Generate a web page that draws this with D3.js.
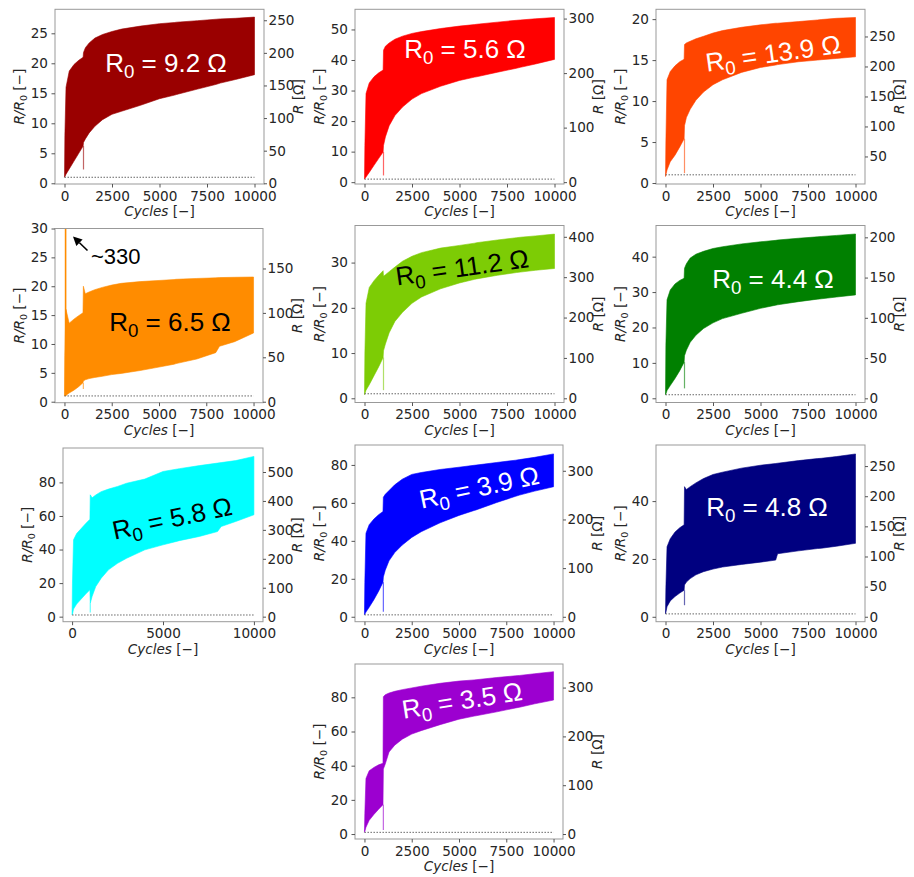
<!DOCTYPE html>
<html><head><meta charset="utf-8">
<script src="https://cdn.jsdelivr.net/npm/d3@7"></script>
<style>body{margin:0;background:#fff;} svg{display:block;}</style>
</head><body>
<svg id="chart" width="914" height="877"></svg>
<script>
// ---------------- DATA ----------------
const cycles = [0,20,80,250,500,750,980,1000,1100,1300,1600,2000,2500,3000,4000,5000,5800,5900,7000,8000,8200,9000,10000];
const r0Labels = ["9.2","5.6","13.9","6.5","11.2","4.4","5.8","3.9","4.8","3.5"];
const colors = ["#9a0000","#ff0000","#ff4500","#ff8c00","#7dcc05","#008000","#00ffff","#0000ff","#000080","#9c00d0"];

const upper1 = [1.0,8,16.0,18.7,19.8,20.5,21.0,21.8,22.6,23.4,24.2,24.8,25.3,25.7,26.2,26.6,26.8,26.85,27.1,27.35,27.4,27.5,27.7];
const lower1 = [1.0,1.1,1.5,2.4,3.7,5.0,6.2,6.8,7.4,8.4,9.5,10.6,11.5,12.0,13.0,14.1,14.7,14.8,15.7,16.5,16.7,17.3,18.1];
const upper2 = [1.1,12,29,32.5,34.5,35.8,36.7,43.2,44.5,45.6,46.8,47.8,48.7,49.3,50.3,51.1,51.6,51.7,52.4,53,53.1,53.5,53.9];
const lower2 = [1.0,1.1,1.7,3.2,5.5,7.8,9.9,12.0,14.8,18.5,21.8,24.6,27.2,29.0,31.4,33.3,34.4,34.5,36.0,37.3,37.6,38.7,40.2];
const upper3 = [0.8,5,12.6,13.6,14.3,14.8,15.1,16.9,17.1,17.3,17.6,17.9,18.3,18.6,19.0,19.3,19.5,19.5,19.7,19.9,19.95,20.1,20.2];
const lower3 = [0.8,1.0,1.6,2.6,3.4,4.4,5.4,7.0,8.0,9.0,10.1,11.1,12.0,12.6,13.5,14.1,14.4,14.45,14.8,15.0,15.05,15.2,15.4];
const upper4 = [1.0,8,16.0,13.6,14.3,14.9,15.4,20.0,18.7,19.0,19.4,19.8,20.2,20.5,20.8,21.0,21.15,21.2,21.35,21.45,21.5,21.55,21.6];
const lower4 = [1.0,1.0,1.1,1.5,2.0,2.6,3.3,3.6,3.8,4.0,4.2,4.4,4.7,4.9,5.4,6.0,6.5,6.6,7.4,8.5,9.6,10.4,11.9];
const upper5 = [1.0,10,21,24.5,26.0,27.2,28.2,27.0,27.3,28.0,29.0,30.3,31.4,32.2,33.2,33.8,34.3,34.4,35.0,35.5,35.6,35.9,36.3];
const lower5 = [0.8,1.0,1.8,3.0,5.0,7.0,9.0,10.5,12.0,14.5,17.0,19.0,21.0,22.4,24.2,25.5,26.3,26.4,27.2,27.8,27.9,28.3,28.7];
const upper6 = [1.2,15,27.8,30.6,32.3,33.3,33.9,36.7,38.0,39.6,40.7,41.5,42.3,42.8,43.6,44.2,44.6,44.7,45.2,45.6,45.7,46.0,46.4];
const lower6 = [1.0,1.2,2.2,3.6,5.6,7.8,10.2,12.0,13.6,15.8,17.8,19.7,21.3,22.5,24.0,25.4,26.3,26.4,27.3,28.0,28.1,28.6,29.2];
const upper7 = [1.5,20,45.8,49.5,52.5,55.5,58.0,72.6,70.8,72.5,74.5,76.0,77.6,79.5,82.0,86.5,88.0,88.2,90.0,91.5,91.8,93.0,95.5];
const lower7 = [1.0,1.5,4.5,7.5,10.5,13.5,16.0,8.0,12.0,17.9,22.9,27.9,31.8,34.8,39.8,42.8,45.0,45.3,47.8,50.7,53.7,56.7,60.7];
const upper8 = [1.5,18,44,48.5,51.5,53.8,55.4,63.0,64.5,66.5,69.5,72.5,75.0,76.0,77.6,78.8,79.8,79.9,81.3,82.5,82.8,84.0,85.8];
const lower8 = [1.0,1.3,2.5,5.0,9.0,13.5,18.2,21.0,24.5,29.5,33.8,37.8,41.8,44.8,49.5,53.4,56.0,56.3,60.2,63.5,64.1,66.2,68.5];
const upper9 = [1.2,10,24.2,27.0,29.3,30.8,31.8,45.0,44.0,45.0,46.3,47.8,49.2,50.0,51.4,52.4,53.0,53.1,54.0,54.7,54.8,55.4,56.3];
const lower9 = [1.0,1.5,3.5,5.5,7.0,8.2,9.2,11.0,12.0,13.2,14.5,15.6,16.5,17.2,18.1,18.9,19.6,21.8,22.8,23.6,23.7,24.4,25.4];
const upper10 = [1.4,12,32.5,37.0,39.0,40.5,41.4,80.4,81.5,82.5,83.5,84.5,85.5,86.5,88.2,89.5,90.2,90.3,91.6,92.6,92.8,93.8,95.0];
const lower10 = [1.0,1.5,4.0,8.0,11.5,14.5,17.2,38.0,41.0,48.0,52.0,55.5,58.5,60.5,64.0,67.2,69.0,69.2,71.5,73.8,74.2,76.2,78.4];

const spikeCycle = 1000;
const spikeMins = [2.3,2.2,1.2,2.2,1.8,2.8,2.5,2.6,4.0,2.3];
const earlySpike = {panel: 3, cycle: 60, value: 330, label: "~330"};

const leftDomains = [[-0.12,29.0],[-0.6,56.6],[-0.12,21.2],[-0.17,30],[-0.93,38.2],[-1.19,48.8],[-3.0,100.5],[-2.6,90.5],[-1.7,59.4],[-2.9,99.5]];
const rightDomains = [[-1.1,266.8],[-3.4,317],[4.1,295.3],[-1.1,195],[-10.4,428],[-5.2,214.7],[-17.4,583],[-10.1,353],[-8.2,285],[-10.2,348.3]];

const xTicks = [0,2500,5000,7500,10000];
const xTicksWide = [0,5000,10000];
const leftTicks = [[0,5,10,15,20,25],[0,10,20,30,40,50],[0,5,10,15,20],[0,5,10,15,20,25,30],[0,10,20,30],[0,10,20,30,40],[0,20,40,60,80],[0,20,40,60,80],[0,20,40],[0,20,40,60,80]];
const rightTicks = [[0,50,100,150,200,250],[0,100,200,300],[50,100,150,200,250],[0,50,100,150],[0,100,200,300,400],[0,50,100,150,200],[0,100,200,300,400,500],[0,100,200,300],[0,50,100,150,200,250],[0,100,200,300]];

const uppers = [upper1,upper2,upper3,upper4,upper5,upper6,upper7,upper8,upper9,upper10];
const lowers = [lower1,lower2,lower3,lower4,lower5,lower6,lower7,lower8,lower9,lower10];

// ---------------- LAYOUT ----------------
const boxes = [
  {x0:55,x1:264,y0:9.3,y1:184},
  {x0:355,x1:564,y0:9.3,y1:184},
  {x0:656,x1:865,y0:9.3,y1:184},
  {x0:55,x1:263,y0:228.5,y1:402.7},
  {x0:355,x1:564,y0:225.5,y1:402.5},
  {x0:656,x1:865,y0:225.5,y1:402.5},
  {x0:63,x1:263,y0:448,y1:621.7},
  {x0:355,x1:563,y0:445,y1:621.7},
  {x0:656,x1:865,y0:445,y1:621.7},
  {x0:355,x1:563,y0:664,y1:839}
];
const labelPos = [
  {cx:166,cy:63,rot:0,fill:"#fff"},
  {cx:465,cy:49,rot:0,fill:"#fff"},
  {cx:773,cy:53,rot:-8,fill:"#fff"},
  {cx:170,cy:322,rot:0,fill:"#000"},
  {cx:462,cy:267,rot:-8,fill:"#000"},
  {cx:773,cy:279,rot:0,fill:"#fff"},
  {cx:172,cy:518,rot:-12,fill:"#000"},
  {cx:479,cy:487,rot:-12,fill:"#fff"},
  {cx:767,cy:507,rot:0,fill:"#fff"},
  {cx:462,cy:700,rot:-9,fill:"#fff"}
];

const svg = d3.select("#chart");
const tickFont = "'DejaVu Sans', sans-serif";
const fs = 13.6;
const defs = svg.append("defs");

boxes.forEach((b, i) => {
  const x = d3.scaleLinear().domain([-500,10500]).range([b.x0,b.x1]);
  const y = d3.scaleLinear().domain(leftDomains[i]).range([b.y1,b.y0]);
  const yR = d3.scaleLinear().domain(rightDomains[i]).range([b.y1,b.y0]);
  const g = svg.append("g");
  const cid = "clip"+i;
  defs.append("clipPath").attr("id",cid).append("rect")
    .attr("x",b.x0).attr("y",b.y0).attr("width",b.x1-b.x0).attr("height",b.y1-b.y0);
  const pg = g.append("g").attr("clip-path",`url(#${cid})`);
  const data = cycles.map((c,k)=>({c, u:uppers[i][k], l:lowers[i][k]}));
  pg.append("path").datum(data)
    .attr("d", d3.area().x(d=>x(d.c)).y0(d=>y(d.l)).y1(d=>y(d.u)))
    .attr("fill", colors[i]).attr("stroke", colors[i]).attr("stroke-width",0.6);
  const kBefore = cycles.indexOf(980);
  pg.append("line")
    .attr("x1", x(spikeCycle)).attr("x2", x(spikeCycle))
    .attr("y1", y(spikeMins[i])).attr("y2", y(Math.min(lowers[i][kBefore], lowers[i][kBefore+1])))
    .attr("stroke", colors[i]).attr("stroke-width",1.2).attr("opacity",0.6);
  if (i === earlySpike.panel) {
    pg.append("line")
      .attr("x1", x(earlySpike.cycle)).attr("x2", x(earlySpike.cycle))
      .attr("y1", y(1)).attr("y2", y(earlySpike.value))
      .attr("stroke", colors[i]).attr("stroke-width",1.6);
  }
  pg.append("line")
    .attr("x1", x(0)).attr("x2", x(10000)).attr("y1", y(1)).attr("y2", y(1))
    .attr("stroke","#666").attr("stroke-width",1).attr("stroke-dasharray","1.5,1.5");

  g.append("rect").attr("x",b.x0).attr("y",b.y0).attr("width",b.x1-b.x0).attr("height",b.y1-b.y0)
    .attr("fill","none").attr("stroke","#999").attr("stroke-width",1);

  const styleAxis = sel => {
    sel.select(".domain").remove();
    sel.selectAll(".tick line").attr("stroke","#555");
    sel.selectAll(".tick text").attr("fill","#262626").attr("font-family",tickFont).attr("font-size",fs);
  };
  g.append("g").attr("transform",`translate(0,${b.y1})`)
    .call(d3.axisBottom(x).tickValues(i===6?xTicksWide:xTicks).tickFormat(d=>d).tickSize(3.5).tickPadding(3.5))
    .call(styleAxis);
  g.append("g").attr("transform",`translate(${b.x0},0)`)
    .call(d3.axisLeft(y).tickValues(leftTicks[i]).tickFormat(d=>d).tickSize(3.5).tickPadding(3.5))
    .call(styleAxis);
  g.append("g").attr("transform",`translate(${b.x1},0)`)
    .call(d3.axisRight(yR).tickValues(rightTicks[i]).tickFormat(d=>d).tickSize(3).tickPadding(1.5))
    .call(styleAxis);

  const cyMid = (b.y0+b.y1)/2, cxMid = (b.x0+b.x1)/2;
  const xt = g.append("text").attr("x",cxMid).attr("y",b.y1+32).attr("text-anchor","middle")
    .attr("font-family",tickFont).attr("font-size",fs).attr("fill","#262626");
  xt.append("tspan").attr("font-style","italic").text("Cycles");
  xt.append("tspan").text(" [\u2212]");
  const lt = g.append("text").attr("transform",`translate(${b.x0-31},${cyMid}) rotate(-90)`)
    .attr("text-anchor","middle").attr("font-family",tickFont).attr("font-size",fs).attr("fill","#262626");
  lt.append("tspan").attr("font-style","italic").text("R/R");
  lt.append("tspan").attr("font-size",fs*0.7).attr("dy",3).text("0");
  lt.append("tspan").attr("dy",-3).text(" [\u2212]");
  const rt = g.append("text").attr("transform",`translate(${b.x1+39},${cyMid}) rotate(-90)`)
    .attr("text-anchor","middle").attr("font-family",tickFont).attr("font-size",fs).attr("fill","#262626");
  rt.append("tspan").attr("font-style","italic").text("R");
  rt.append("tspan").text(" [\u03a9]");

  const lp = labelPos[i];
  const bf = 26;
  const bt = g.append("text").attr("transform",`translate(${lp.cx},${lp.cy}) rotate(${lp.rot})`)
    .attr("y", bf*0.36).attr("text-anchor","middle")
    .attr("font-family","'Liberation Sans', Arial, sans-serif").attr("font-size",bf).attr("fill",lp.fill);
  bt.append("tspan").text("R");
  bt.append("tspan").attr("font-size",bf*0.72).attr("dy",6).text("0");
  bt.append("tspan").attr("dy",-6).text(` = ${r0Labels[i]} \u03a9`);

  if (i === earlySpike.panel) {
    const tip = [73,236.5], tail = [87.5,250.5];
    const dx = tip[0]-tail[0], dy = tip[1]-tail[1], L = Math.hypot(dx,dy);
    const ux = dx/L, uy = dy/L, hl = 9, hw = 4.5;
    const base = [tip[0]-ux*hl, tip[1]-uy*hl];
    g.append("line").attr("x1",tail[0]).attr("y1",tail[1]).attr("x2",base[0]).attr("y2",base[1])
      .attr("stroke","#000").attr("stroke-width",1.6);
    g.append("path").attr("d",`M${tip[0]},${tip[1]}L${base[0]-uy*hw},${base[1]+ux*hw}L${base[0]+uy*hw},${base[1]-ux*hw}Z`)
      .attr("fill","#000");
    g.append("text").attr("x",91).attr("y",264).attr("font-family","'Liberation Sans', Arial, sans-serif")
      .attr("font-size",22).attr("fill","#000").text(earlySpike.label);
  }
});
</script>
</body></html>
